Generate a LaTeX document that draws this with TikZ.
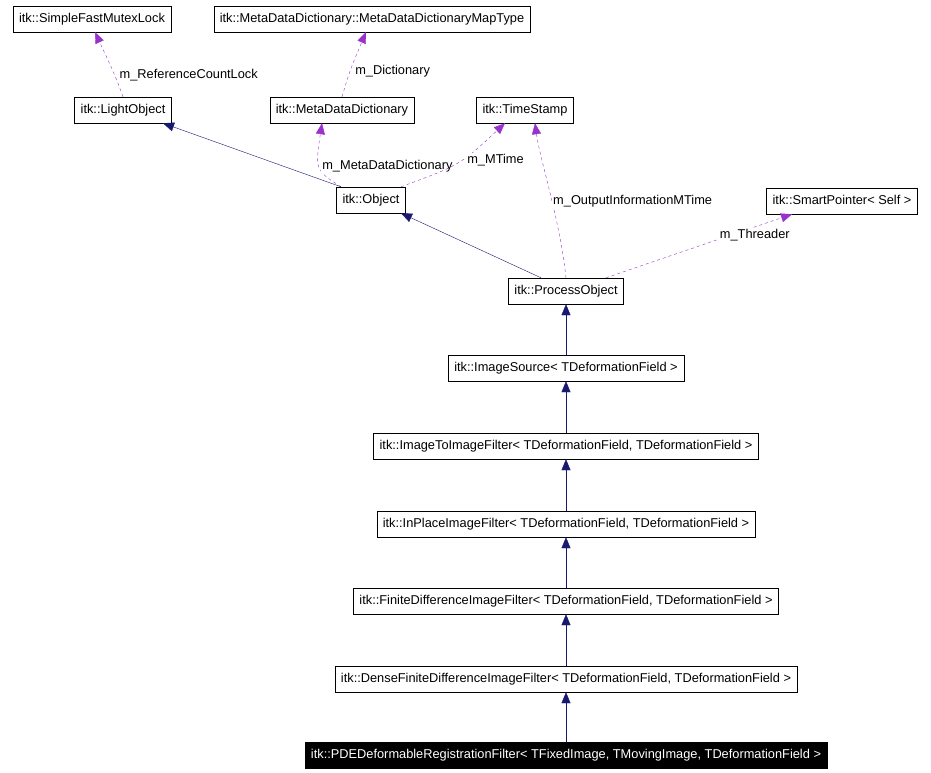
\documentclass[tikz,border=0pt]{standalone}
\usepackage{fontspec}
\setmainfont{Liberation Sans}
\usetikzlibrary{arrows.meta}
\tikzset{
    cls/.style={draw,fill=white,inner xsep=6pt,inner ysep=0pt,minimum height=26pt,font=\fontsize{12.8}{14}\selectfont,text height=9.5pt,text depth=3pt},
    main/.style={cls,fill=black,text=white},
    inherit/.style={draw=midnightblue,-{Triangle[length=11pt,width=9pt,fill=midnightblue]}},
    member/.style={draw=darkorchid,dashed,-{Triangle[length=11pt,width=9pt,fill=darkorchid]}},
    lbl/.style={font=\fontsize{12.8}{14}\selectfont,fill=white,inner sep=1pt},
}
\definecolor{midnightblue}{RGB}{25,25,112}
\definecolor{darkorchid}{RGB}{153,50,204}
\begin{document}
\begin{tikzpicture}[x=1pt,y=-1pt]
\useasboundingbox (0,0) rectangle (931,773);
% class boxes
\node[cls] (mutex) at (92,19) {itk::SimpleFastMutexLock};
\node[cls] (maptype) at (372,19) {itk::MetaDataDictionary::MetaDataDictionaryMapType};
\node[cls] (light) at (123,110) {itk::LightObject};
\node[cls] (dict) at (342,110) {itk::MetaDataDictionary};
\node[cls] (stamp) at (525,110) {itk::TimeStamp};
\node[cls] (object) at (371,200) {itk::Object};
\node[cls] (smart) at (842,201) {itk::SmartPointer< Self >};
\node[cls] (process) at (566,291) {itk::ProcessObject};
\node[cls] (source) at (566,368) {itk::ImageSource< TDeformationField >};
\node[cls] (i2i) at (566,446) {itk::ImageToImageFilter< TDeformationField, TDeformationField >};
\node[cls] (inplace) at (566,524) {itk::InPlaceImageFilter< TDeformationField, TDeformationField >};
\node[cls] (finite) at (566,601) {itk::FiniteDifferenceImageFilter< TDeformationField, TDeformationField >};
\node[cls] (dense) at (566,679) {itk::DenseFiniteDifferenceImageFilter< TDeformationField, TDeformationField >};
\node[main] (pde) at (566,755) {itk::PDEDeformableRegistrationFilter< TFixedImage, TMovingImage, TDeformationField >};
% members
\draw[member] (light.north) .. controls (115,75) .. ([xshift=3pt]mutex.south) node[lbl,pos=0.45,right=4pt] {m\_ReferenceCountLock};
\draw[member] (dict.north) .. controls (350,70) .. ([xshift=-6pt]maptype.south) node[lbl,pos=0.45,right=4pt] {m\_Dictionary};
\draw[member] ([xshift=-30pt]object.north) .. controls (315,170) .. ([xshift=-20pt]dict.south) node[lbl,pos=0.5,right=2pt] {m\_MetaDataDictionary};
\draw[member] ([xshift=30pt]object.north) .. controls (460,165) .. ([xshift=-20pt]stamp.south) node[lbl,pos=0.55,right=4pt] {m\_MTime};
\draw[member] (process.north) .. controls (560,220) and (540,160) .. ([xshift=10pt]stamp.south) node[lbl,pos=0.45,right=0pt] {m\_OutputInformationMTime};
\draw[member] ([xshift=40pt]process.north) -- ([xshift=-50pt]smart.south) node[lbl,pos=0.8,below=1pt] {m\_Threader};
% inheritance
\draw[inherit] ([xshift=-30pt]object.north) -- ([xshift=40pt]light.south);
\draw[inherit] ([xshift=-25pt]process.north) -- ([xshift=30pt]object.south);
\draw[inherit] (source) -- (process);
\draw[inherit] (i2i) -- (source);
\draw[inherit] (inplace) -- (i2i);
\draw[inherit] (finite) -- (inplace);
\draw[inherit] (dense) -- (finite);
\draw[inherit] (pde) -- (dense);
\end{tikzpicture}
\end{document}
